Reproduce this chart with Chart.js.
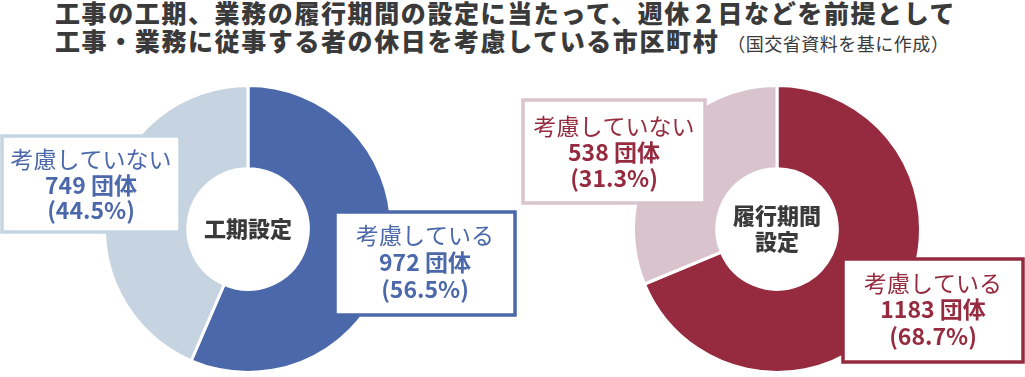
<!DOCTYPE html>
<html lang="ja">
<head>
<meta charset="UTF-8">
<title>休日を考慮している市区町村</title>
<script src="https://cdn.jsdelivr.net/npm/chart.js"></script>
<style>
    body { margin: 0; background: #fff; font-family: "Noto Sans CJK JP", sans-serif; }
    .wrap { position: relative; width: 1025px; height: 377px; overflow: hidden; }
    .title { position: absolute; left: 55px; color: #3a3a3a; font-weight: 900; font-size: 25px; letter-spacing: 1.6px; line-height: 27px; white-space: nowrap; }
    .title small { font-weight: normal; font-size: 18px; letter-spacing: 0.5px; margin-left: 8px; }
    canvas { position: absolute; top: 0; }
</style>
</head>
<body>
<div class="wrap">
    <div class="title" style="top:-1px">工事の工期、業務の履行期間の設定に当たって、週休２日などを前提として</div>
    <div class="title" style="top:27px">工事・業務に従事する者の休日を考慮している市区町村<small>（国交省資料を基に作成）</small></div>
    <canvas id="chartKouki" width="520" height="377" style="left:0"></canvas>
    <canvas id="chartRikou" width="505" height="377" style="left:520px"></canvas>
</div>

<script>
    // データ
    const categories = ['考慮している', '考慮していない'];
    const kouki = [972, 749];           // 工期設定（団体）
    const koukiPct = ['56.5', '44.5'];
    const rikou = [1183, 538];          // 履行期間設定（団体）
    const rikouPct = ['68.7', '31.3'];
    const centerTitles = [['工期設定'], ['履行期間', '設定']];

    // ラベルの枠と中央の文字を描くプラグイン
    const boxLabels = {
        id: 'boxLabels',
        afterDatasetsDraw(chart, args, opts) {
            const ctx = chart.ctx;
            const values = chart.data.datasets[0].data;
            ctx.save();
            opts.boxes.forEach(b => {
                ctx.fillStyle = '#fff';
                ctx.fillRect(b.x, b.y, b.w, b.h);
                ctx.strokeStyle = b.border;
                ctx.lineWidth = 3.5;
                ctx.strokeRect(b.x, b.y, b.w, b.h);
                const lines = [
                    chart.data.labels[b.index],
                    values[b.index] + ' 団体',
                    '(' + opts.pct[b.index] + '%)'
                ];
                ctx.fillStyle = opts.color;
                ctx.textAlign = 'center';
                ctx.textBaseline = 'middle';
                lines.forEach((t, i) => {
                    ctx.font = (i === 0 ? '' : 'bold ') + b.size + 'px "Noto Sans CJK JP"';
                    ctx.fillText(t, b.x + b.w / 2, b.ly[i]);
                });
            });
            // 中央
            const arc = chart.getDatasetMeta(0).data[0];
            ctx.fillStyle = '#3a3a3a';
            ctx.font = '900 22px "Noto Sans CJK JP"';
            const n = opts.center.length;
            opts.center.forEach((t, i) => {
                ctx.fillText(t, arc.x, arc.y + (i - (n - 1) / 2) * 26);
            });
            ctx.restore();
        }
    };

    new Chart(document.getElementById('chartKouki'), {
        type: 'doughnut',
        data: {
            labels: categories,
            datasets: [{
                data: kouki,
                backgroundColor: ['#4a68aa', '#c5d4e0'],
                borderColor: '#fff',
                borderWidth: 3
            }]
        },
        options: {
            responsive: false,
            animation: false,
            cutout: '42%',
            layout: { padding: { top: 84, bottom: 3, left: 0, right: 24 } },
            plugins: {
                legend: { display: false },
                tooltip: { enabled: false },
                boxLabels: {
                    color: '#4a68aa',
                    pct: koukiPct,
                    center: centerTitles[0],
                    boxes: [
                        { index: 1, x: 2, y: 136, w: 178, h: 96, border: '#c5d4e0', size: 23, ly: [159, 185, 210] },
                        { index: 0, x: 335, y: 212, w: 180, h: 103, border: '#4a68aa', size: 23, ly: [235, 262, 289] }
                    ]
                }
            }
        },
        plugins: [boxLabels]
    });

    new Chart(document.getElementById('chartRikou'), {
        type: 'doughnut',
        data: {
            labels: categories,
            datasets: [{
                data: rikou,
                backgroundColor: ['#962b3f', '#d9c4cd'],
                borderColor: '#fff',
                borderWidth: 3
            }]
        },
        options: {
            responsive: false,
            animation: false,
            cutout: '42%',
            layout: { padding: { top: 84, bottom: 3, left: 9, right: 0 } },
            plugins: {
                legend: { display: false },
                tooltip: { enabled: false },
                boxLabels: {
                    color: '#962b3f',
                    pct: rikouPct,
                    center: centerTitles[1],
                    boxes: [
                        { index: 1, x: 3, y: 100, w: 182, h: 103, border: '#d9c4cd', size: 23, ly: [126, 152, 178] },
                        { index: 0, x: 323, y: 259, w: 180, h: 103, border: '#962b3f', size: 23, ly: [283, 309, 336] }
                    ]
                }
            }
        },
        plugins: [boxLabels]
    });
</script>
</body>
</html>
